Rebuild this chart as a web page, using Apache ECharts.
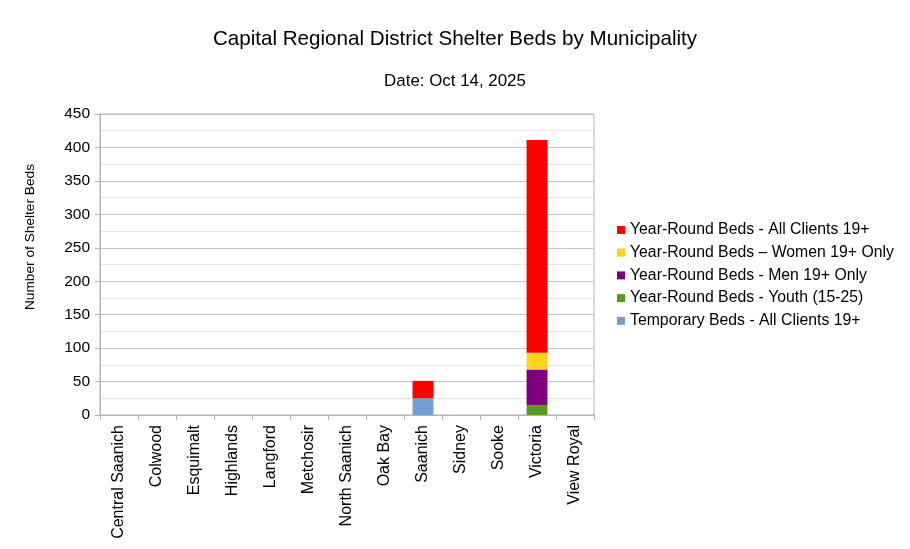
<!DOCTYPE html>
<html><head><meta charset="utf-8">
<script src="https://cdn.jsdelivr.net/npm/echarts@6/dist/echarts.min.js"></script>
<style>html,body{margin:0;padding:0;background:#fff}#c{width:910px;height:549px}</style>
</head><body><div id="c"></div>
<script>
const categories = ["Central Saanich","Colwood","Esquimalt","Highlands","Langford","Metchosir","North Saanich","Oak Bay","Saanich","Sidney","Sooke","Victoria","View Royal"];
const temporaryAll = [0,0,0,0,0,0,0,0,25,0,0,0,0];
const youth = [0,0,0,0,0,0,0,0,0,0,0,15,0];
const men = [0,0,0,0,0,0,0,0,0,0,0,53,0];
const women = [0,0,0,0,0,0,0,0,0,0,0,25,0];
const allClients = [0,0,0,0,0,0,0,0,26,0,0,318,0];
const seriesNames = ["Temporary Beds - All Clients 19+","Year-Round Beds - Youth (15-25)","Year-Round Beds - Men 19+ Only","Year-Round Beds \u2013 Women 19+ Only","Year-Round Beds - All Clients 19+"];
const yAxisTitle = "Number of Shelter Beds";
const colors = ["#729fcf","#579d1c","#7e0080","#ffd320","#ff0000"];
const seriesData = [temporaryAll, youth, men, women, allClients];

const font = "Liberation Sans, Arial, sans-serif";
const chart = echarts.init(document.getElementById('c'), null, {renderer:'canvas'});
chart.setOption({
  animation:false,
  title:[
    {text:"Capital Regional District Shelter Beds by Municipality", left:'center', top:24, textStyle:{fontFamily:font,fontSize:20.6,fontWeight:'normal',color:'#000'}},
    {text:"Date: Oct 14, 2025", left:'center', top:68, textStyle:{fontFamily:font,fontSize:16.9,fontWeight:'normal',color:'#000'}}
  ],
  graphic:[{
    type:'text', x:30, y:237, rotation:Math.PI/2,
    style:{text:yAxisTitle, font:"13.7px Liberation Sans, Arial, sans-serif", fill:'#000', textAlign:'center', textVerticalAlign:'middle'}
  }],
  legend:{
    orient:'vertical', left:617, top:222, itemWidth:8, itemHeight:8, itemGap:6.7, icon:'rect', padding:0,
    data:[seriesNames[4],seriesNames[3],seriesNames[2],seriesNames[1],seriesNames[0]],
    textStyle:{fontFamily:font,fontSize:15.8,color:'#000'}
  },
  grid:{left:100,right:316,top:114,bottom:134,containLabel:false,show:true,borderColor:'#b3b3b3',borderWidth:1},
  xAxis:{
    type:'category', data:categories,
    axisLine:{lineStyle:{color:'#b3b3b3'}},
    axisTick:{show:true,length:5,alignWithLabel:false,lineStyle:{color:'#b3b3b3'}},
    axisLabel:{rotate:90,fontFamily:font,fontSize:16,color:'#000',margin:10,interval:0}
  },
  yAxis:{
    type:'value', min:0, max:450, interval:50,
    axisLine:{show:true,lineStyle:{color:'#b3b3b3'}},
    axisTick:{show:true,length:5,lineStyle:{color:'#b3b3b3'}},
    axisLabel:{fontFamily:font,fontSize:15.5,color:'#000',margin:10},
    splitLine:{lineStyle:{color:'#c4c4c4'}},
    minorTick:{show:false,splitNumber:2},
    minorSplitLine:{show:true,lineStyle:{color:'#e6e6e6'}}
  },
  series: seriesData.map((d,i)=>({
    name:seriesNames[i], type:'bar', stack:'total', data:d, barWidth:'55%', barCategoryGap:'45%',
    itemStyle:{color:colors[i]}
  }))
});
</script></body></html>
